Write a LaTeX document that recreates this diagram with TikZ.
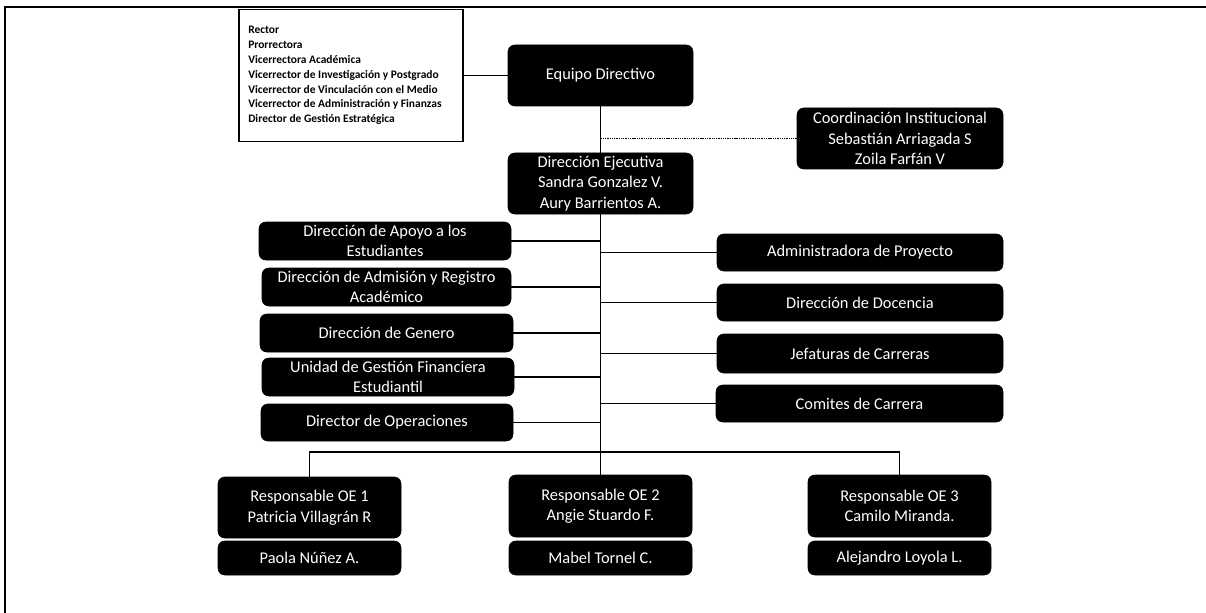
\documentclass[tikz,border=0pt]{standalone}
\usepackage{fontspec}
\setmainfont{Carlito}
\tikzset{
  x=0.75pt,y=-0.75pt,
  boxn/.style={fill=black,text=white,draw=black,rounded corners=5pt,align=center,anchor=center,inner sep=0pt,font=\fontsize{12.3pt}{15.4pt}\selectfont},
  conn/.style={draw=black,line width=0.9pt},
  dotconn/.style={draw=black,line width=0.9pt,dash pattern=on 1pt off 0.7pt},
}
\newcommand{\bx}[6]{\node[boxn,minimum width=#4*0.75pt-#2*0.75pt,minimum height=#5*0.75pt-#3*0.75pt] (#1) at ({(#2+#4)/2},{(#3+#5)/2}) {#6};}
\begin{document}
\begin{tikzpicture}
\useasboundingbox (0,0) rectangle (1206,613);
\coordinate (ftr) at (1206,7);
\coordinate (ftl) at (5,7);
\coordinate (fbl) at (5,613);
\draw[conn] (ftr) -- (ftl) -- (fbl);
\node[draw=black,line width=1.1pt,fill=white,minimum width=168pt,minimum height=99pt,inner sep=0pt] (legend) at (351,75.5) {};
\node[anchor=west,align=left,inner sep=0pt,font=\bfseries\fontsize{8.6pt}{11.1pt}\selectfont] (legendtext) at (248,75.5) {Rector\\Prorrectora\\Vicerrectora Académica\\Vicerrector de Investigación y Postgrado\\Vicerrector de Vinculación con el Medio\\Vicerrector de Administración y Finanzas\\Director de Gestión Estratégica};
\bx{eq}{508}{45}{693}{106}{Equipo Directivo}
\bx{de}{508}{153}{693}{214}{Dirección Ejecutiva\\Sandra Gonzalez V.\\Aury Barrientos A.}
\bx{co}{797}{108}{1003}{169}{Coordinación Institucional\\Sebastián Arriagada S\\Zoila Farfán V}
\bx{ad}{717}{234}{1003}{271}{Administradora de Proyecto}
\bx{do}{717}{284}{1003}{321}{Dirección de Docencia}
\bx{je}{717}{334}{1003}{373}{Jefaturas de Carreras}
\bx{cc}{716}{385}{1003}{422}{Comites de Carrera}
\bx{ap}{259}{222}{511}{260}{Dirección de Apoyo a los\\Estudiantes}
\bx{ar}{262}{268}{511}{306}{Dirección de Admisión y Registro\\Académico}
\bx{ge}{260}{314}{513}{352}{Dirección de Genero}
\bx{un}{262}{358}{514}{396}{Unidad de Gestión Financiera\\Estudiantil}
\bx{op}{261}{404}{513}{441}{Director de Operaciones}
\bx{oa}{218}{477}{401}{538}{Responsable OE 1\\Patricia Villagrán R}
\bx{ob}{509}{475}{692}{537}{Responsable OE 2\\Angie Stuardo F.}
\bx{oc}{808}{475}{991}{537}{Responsable OE 3\\Camilo Miranda.}
\bx{pa}{218}{541}{401}{575}{Paola Núñez A.}
\bx{pb}{509}{541}{692}{575}{Mabel Tornel C.}
\bx{pc}{808}{541}{991}{575}{Alejandro Loyola L.}
\coordinate (bus) at (601,452);
\draw[conn] (legend.east) -- (eq.west);
\draw[conn] (eq.south) -- (de.north);
\draw[dotconn] (co.west) -- (co.west -| eq.south);
\draw[conn] (de.south) -- (ob.north);
\foreach \n in {ap,ar,ge,un,op}{\draw[conn] (\n.east) -- (\n.east -| de.south);}
\foreach \n in {ad,do,je,cc}{\draw[conn] (\n.west) -- (\n.west -| de.south);}
\draw[conn] (oa.north) |- (bus);
\draw[conn] (oc.north) |- (bus);
\end{tikzpicture}
\end{document}
